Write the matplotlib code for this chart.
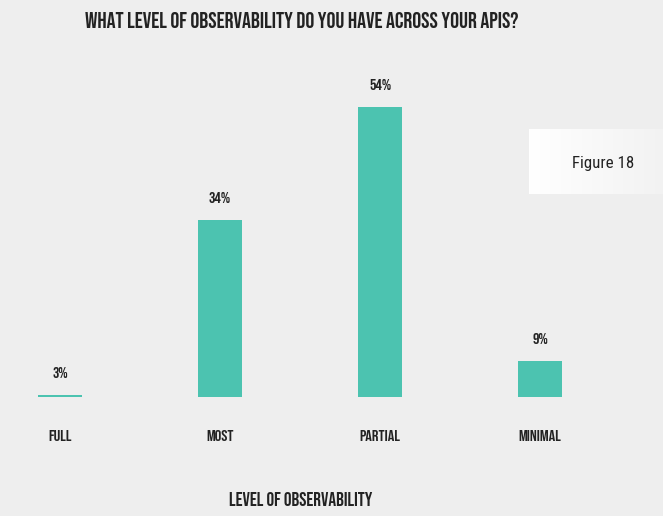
import numpy as np
import matplotlib.pyplot as plt

categories = ["FULL", "MOST", "PARTIAL", "MINIMAL"]
values = [3, 34, 54, 9]
value_labels = ["3%", "34%", "54%", "9%"]
title = "WHAT LEVEL OF OBSERVABILITY DO YOU HAVE ACROSS YOUR APIS?"
xlabel = "LEVEL OF OBSERVABILITY"
figure_tag = "Figure 18"

bg = "#eeeeee"
bar_color = "#4cc3b0"
text_color = "#222222"
head = ["Bebas Neue", "DejaVu Sans"]
narrow = ["Roboto Condensed", "DejaVu Sans"]
base = 2.7  # axis does not start at zero, the 3% bar is just a sliver

fig = plt.figure(figsize=(6.63, 5.16), dpi=100, facecolor=bg)
ax = fig.add_axes([0, 0, 1, 1])
ax.set_facecolor(bg)
ax.set_xlim(-0.375, 3.769)
ax.set_ylim(-18.39, 72.94)
ax.axis("off")

x = np.arange(len(categories))
heights = np.array(values) - base
ax.bar(x, heights, bottom=base, width=0.275, color=bar_color, zorder=3)

for xi, v, lab in zip(x, values, value_labels):
    ax.annotate(lab, (xi, v), xytext=(0, 16.5), textcoords="offset points",
                ha="center", va="center", fontsize=11.5, family=head,
                color=text_color)

for xi, c in zip(x, categories):
    ax.annotate(c, (xi, base), xytext=(0, -27.8), textcoords="offset points",
                ha="center", va="center", fontsize=11.8, family=head,
                color=text_color)

fig.text(302 / 663, 1 - 20 / 516, title, ha="center", va="center",
         fontsize=16, family=head, color=text_color)
fig.text(301 / 663, 1 - 499 / 516, xlabel, ha="center", va="center",
         fontsize=13.9, family=head, color=text_color)

# white tag box with a slight fade to the right
grad = np.linspace(1.0, 0.95, 100).reshape(1, -1)
tag_ax = fig.add_axes([529 / 663, 1 - 194 / 516, 134 / 663, 65 / 516])
tag_ax.imshow(np.dstack([grad, grad, grad]), aspect="auto", extent=[0, 1, 0, 1])
tag_ax.axis("off")
tag_ax.text(0.55, 0.47, figure_tag, ha="center", va="center", fontsize=12.2,
            family=narrow, color=text_color)

fig.savefig("out.png", dpi=100, facecolor=bg)
